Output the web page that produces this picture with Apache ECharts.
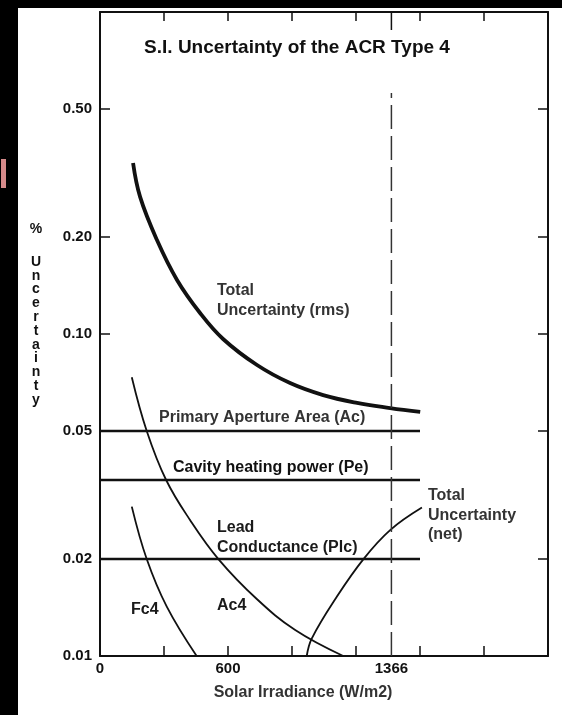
<!DOCTYPE html>
<html><head><meta charset="utf-8">
<script src="https://cdn.jsdelivr.net/npm/echarts@6/dist/echarts.min.js"></script>
<style>html,body{margin:0;padding:0;background:#fff}#c{width:562px;height:715px}</style>
</head><body><div id="c"></div>
<script>
// ---- data ----
const xTickValues = [0, 300, 600, 900, 1200, 1500, 1800, 2100];
const xLabelValues = [0, 600, 1366];
const yTickValues = [0.01, 0.02, 0.05, 0.1, 0.2, 0.5];

const totalRmsX = [155, 188, 267, 361, 469, 577, 736, 891, 1046, 1205, 1360, 1501];
const totalRmsY = [0.3396, 0.2665, 0.1958, 0.1472, 0.1162, 0.0965, 0.0801, 0.0704, 0.0646, 0.0611, 0.0589, 0.0573];

const ac4X = [149, 219, 310, 422, 555, 735, 915, 1140];
const ac4Y = [0.0734, 0.05, 0.0352, 0.02645, 0.02, 0.01503, 0.01204, 0.01];

const fc4X = [149, 219, 313, 453];
const fc4Y = [0.0291, 0.02, 0.01423, 0.01];

const netX = [969, 993, 1110, 1235, 1360, 1509];
const netY = [0.01, 0.01135, 0.01528, 0.02, 0.0246, 0.0289];

const flatX = [0, 1500];
const apertureY = 0.05;
const heatingY = 0.0352;
const leadY = 0.02;

const solarConstant = 1366;
const dashedY = [0.01, 0.56];
const topTickY = [1.0, 0.88];

const zip = (xs, ys) => xs.map((x, i) => [x, ys[i]]);
const flat = (v) => flatX.map(x => [x, v]);

const FONT = '"Liberation Sans", Arial, sans-serif';
const ink = '#111';

const chart = echarts.init(document.getElementById('c'), null, {renderer: 'canvas'});

function lineSeries(data, width, smooth, dashed) {
  return {
    type: 'line', data: data, symbol: 'none', smooth: smooth ? 0.4 : false,
    xAxisIndex: 0, yAxisIndex: 0, silent: true, animation: false,
    lineStyle: {color: dashed ? '#333' : ink, width: width, type: dashed ? [24, 7] : 'solid'},
    z: 3
  };
}

const t = (text, x, y, opts) => Object.assign({
  type: 'text', x: x, y: y, silent: true,
  style: Object.assign({text: text, fill: '#222', font: 'bold 16px ' + FONT,
    textVerticalAlign: 'top', lineHeight: 19.5}, (opts || {}))
});

const option = {
  animation: false,
  backgroundColor: '#fff',
  textStyle: {fontFamily: FONT},
  grid: {left: 100, right: 14, top: 12, bottom: 59, containLabel: false},
  xAxis: [{
    type: 'value', min: 0, max: 2100, interval: 300, position: 'bottom',
    axisLine: {show: true, onZero: false, lineStyle: {color: ink, width: 2}},
    axisTick: {show: true, inside: true, length: 10, lineStyle: {color: ink, width: 1.5}},
    axisLabel: {show: true, customValues: xLabelValues, formatter: v => String(v),
      color: '#111', fontWeight: 'bold', fontSize: 15, margin: 5, fontFamily: FONT},
    splitLine: {show: false}
  }, {
    type: 'value', min: 0, max: 2100, interval: 300, position: 'top',
    axisLine: {show: true, onZero: false, lineStyle: {color: ink, width: 2}},
    axisTick: {show: true, inside: true, length: 9, lineStyle: {color: ink, width: 1.5}},
    axisLabel: {show: false}, splitLine: {show: false}
  }],
  yAxis: [{
    type: 'log', logBase: 10, min: 0.01, max: 1, position: 'left',
    axisLine: {show: true, onZero: false, lineStyle: {color: ink, width: 2}},
    axisTick: {show: true, inside: true, length: 10, customValues: yTickValues, lineStyle: {color: ink, width: 1.5}},
    axisLabel: {show: true, customValues: yTickValues, formatter: v => Number(v).toFixed(2),
      color: '#111', fontWeight: 'bold', fontSize: 15, margin: 8, fontFamily: FONT},
    splitLine: {show: false}, minorTick: {show: false}
  }, {
    type: 'log', logBase: 10, min: 0.01, max: 1, position: 'right',
    axisLine: {show: true, onZero: false, lineStyle: {color: ink, width: 2}},
    axisTick: {show: true, inside: true, length: 10, customValues: yTickValues, lineStyle: {color: ink, width: 1.5}},
    axisLabel: {show: false}, splitLine: {show: false}
  }],
  series: [
    lineSeries(zip(totalRmsX, totalRmsY), 3.8, true),
    lineSeries(flat(apertureY), 2.6, false),
    lineSeries(flat(heatingY), 2.6, false),
    lineSeries(flat(leadY), 2.6, false),
    lineSeries(zip(ac4X, ac4Y), 1.8, true),
    lineSeries(zip(fc4X, fc4Y), 1.8, true),
    lineSeries(zip(netX, netY), 1.8, true),
    lineSeries(dashedY.map(y => [solarConstant, y]), 1.5, false, true),
    lineSeries(topTickY.map(y => [solarConstant, y]), 1.5, false)
  ],
  graphic: [
    {type: 'rect', shape: {x: 0, y: 0, width: 562, height: 8}, style: {fill: '#000'}, silent: true},
    {type: 'rect', shape: {x: 0, y: 0, width: 18, height: 715}, style: {fill: '#000'}, silent: true},
    {type: 'rect', shape: {x: 1, y: 159, width: 5, height: 29}, style: {fill: '#d58a8a'}, silent: true},
    t('S.I. Uncertainty of the ACR Type 4', 297, 48, {fill: '#111', font: 'bold 19px ' + FONT, textAlign: 'center', textVerticalAlign: 'middle'}),
    t('Solar Irradiance (W/m2)', 303, 693, {fill: '#333', textAlign: 'center', textVerticalAlign: 'middle'}),
    t('%', 36, 229, {fill: '#111', font: 'bold 14px ' + FONT, textAlign: 'center', textVerticalAlign: 'middle'}),
    t('U\nn\nc\ne\nr\nt\na\ni\nn\nt\ny', 36, 255, {fill: '#111', font: 'bold 14px ' + FONT, textAlign: 'center', lineHeight: 13.8}),
    t('Total\nUncertainty (rms)', 217, 281, {fill: '#333'}),
    t('Primary Aperture Area (Ac)', 159, 408, {fill: '#333'}),
    t('Cavity heating power (Pe)', 173, 458, {fill: '#111'}),
    t('Lead\nConductance (Plc)', 217, 518, {fill: '#1a1a1a'}),
    t('Total\nUncertainty\n(net)', 428, 486, {fill: '#333'}),
    t('Fc4', 131, 600, {fill: '#1a1a1a'}),
    t('Ac4', 217, 596, {fill: '#1a1a1a'})
  ]
};
chart.setOption(option);
</script>
</body></html>
